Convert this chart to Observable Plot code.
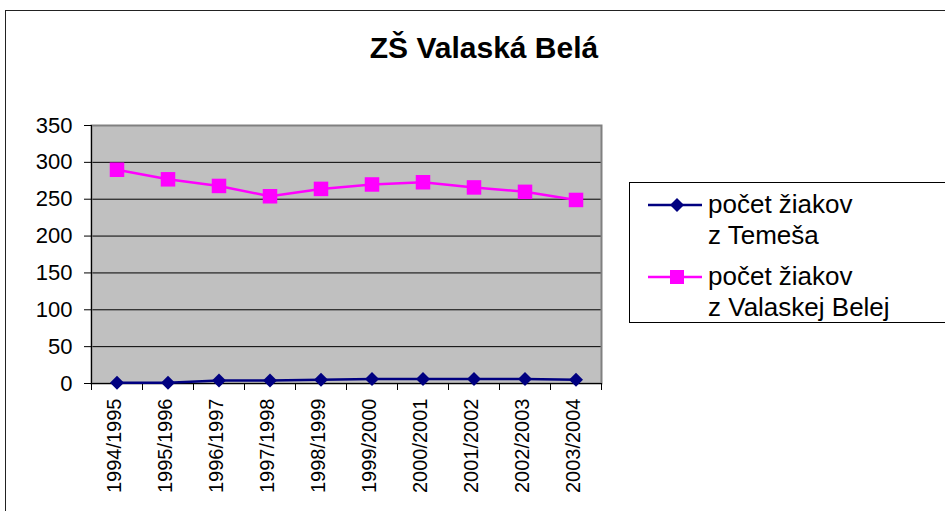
<!DOCTYPE html>
<html>
<head>
<meta charset="utf-8">
<script src="https://cdn.jsdelivr.net/npm/d3@7"></script>
<script src="https://cdn.jsdelivr.net/npm/@observablehq/plot@0.6"></script>
<style>
  html, body { margin: 0; padding: 0; background: #fff; }
  #wrap { position: relative; width: 945px; height: 511px; overflow: hidden; font-family: "Liberation Sans", Arial, sans-serif; }
  #outer { position: absolute; left: 5px; top: 10px; width: 1000px; height: 600px; border: 1.5px solid #222; box-sizing: border-box; }
  #chart { position: absolute; left: 0; top: 0; }
  #title { position: absolute; left: 0; width: 968px; top: 33px; text-align: center; font-weight: bold; font-size: 30px; line-height: 30px; color: #000; }
  #legend { position: absolute; left: 629px; top: 182px; width: 330px; height: 141px; border: 1px solid #000; box-sizing: border-box; background: #fff; }
  .lg-sw { position: absolute; left: 17px; }
  .lg-tx { position: absolute; left: 78px; font-size: 26px; line-height: 31px; color: #000; white-space: nowrap; }
</style>
</head>
<body>
<div id="wrap">
  <div id="outer"></div>
  <div id="chart"></div>
  <div id="title"></div>
  <div id="legend"></div>
</div>
<script>
// ---- data ----
const title = "ZŠ Valaská Belá";
const seasons = ["1994/1995","1995/1996","1996/1997","1997/1998","1998/1999","1999/2000","2000/2001","2001/2002","2002/2003","2003/2004"];
const temesValues = [1, 1, 4, 4, 5, 6, 6, 6, 6, 5];
const valaskaValues = [290, 277, 268, 254, 264, 270, 273, 266, 260, 249];
const seriesNames = ["počet žiakov z Temeša", "počet žiakov z Valaskej Belej"];
const legendLines = [["počet žiakov", "z Temeša"], ["počet žiakov", "z Valaskej Belej"]];
const seriesColors = ["#000080", "#FF00FF"];
const yTicks = [0, 50, 100, 150, 200, 250, 300, 350];
const gridTicks = [50, 100, 150, 200, 250, 300];

// ---- table ----
const rows = seasons.flatMap((s, i) => [
  {season: s, series: seriesNames[0], value: temesValues[i]},
  {season: s, series: seriesNames[1], value: valaskaValues[i]}
]);
const xPos = d => seasons.indexOf(d.season) + 0.5;

// custom symbols (size = PI r^2 -> h = r)
const diamond = {draw(ctx, size) { const h = Math.sqrt(size / Math.PI); ctx.moveTo(0, -h); ctx.lineTo(h, 0); ctx.lineTo(0, h); ctx.lineTo(-h, 0); ctx.closePath(); }};
const square = {draw(ctx, size) { const h = Math.sqrt(size / Math.PI); ctx.rect(-h, -h, 2 * h, 2 * h); }};

const plot = Plot.plot({
  width: 945,
  height: 511,
  marginLeft: 91,
  marginRight: 344,
  marginTop: 125,
  marginBottom: 128,
  style: {fontFamily: "'Liberation Sans', Arial, sans-serif", color: "#000", background: "transparent"},
  x: {type: "linear", domain: [0, seasons.length], axis: null},
  y: {domain: [0, 350], axis: null},
  color: {domain: seriesNames, range: seriesColors},
  marks: [
    Plot.frame({fill: "#C0C0C0", stroke: null}),
    Plot.ruleY(gridTicks, {stroke: "#000", strokeWidth: 1}),
    Plot.frame({stroke: "#808080", strokeWidth: 2}),
    Plot.ruleX([0], {stroke: "#000", strokeWidth: 1}),
    Plot.ruleY([0], {stroke: "#000", strokeWidth: 1}),
    Plot.axisY({ticks: yTicks, tickSize: 7, tickPadding: 12, fontSize: 22, anchor: "left", label: null}),
    Plot.axisX({ticks: d3.range(seasons.length + 1), tickSize: 7, tickFormat: () => "", anchor: "bottom", label: null}),
    Plot.axisX({ticks: seasons.map((s, i) => i + 0.5), tickFormat: v => seasons[Math.round(v - 0.5)], tickSize: 0, tickPadding: 15, tickRotate: -90, fontSize: 20, anchor: "bottom", dx: -2, label: null}),
    Plot.line(rows, {x: xPos, y: "value", z: "series", stroke: "series", strokeWidth: 2.5}),
    Plot.dot(rows.filter(d => d.series === seriesNames[0]), {x: xPos, y: "value", fill: "series", symbol: diamond, r: 7, stroke: null}),
    Plot.dot(rows.filter(d => d.series === seriesNames[1]), {x: xPos, y: "value", fill: "series", symbol: square, r: 7.25, stroke: null})
  ]
});
document.getElementById("chart").appendChild(plot);
document.getElementById("title").textContent = title;

// ---- legend ----
const legend = document.getElementById("legend");
const itemTops = [6, 78];
legendLines.forEach((lines, k) => {
  const sw = document.createElementNS("http://www.w3.org/2000/svg", "svg");
  sw.setAttribute("width", 56); sw.setAttribute("height", 20);
  sw.setAttribute("class", "lg-sw");
  sw.style.top = (itemTops[k] + 6) + "px";
  const ln = document.createElementNS("http://www.w3.org/2000/svg", "line");
  ln.setAttribute("x1", 1); ln.setAttribute("x2", 55); ln.setAttribute("y1", 10); ln.setAttribute("y2", 10);
  ln.setAttribute("stroke", seriesColors[k]); ln.setAttribute("stroke-width", 2.5);
  sw.appendChild(ln);
  const mk = document.createElementNS("http://www.w3.org/2000/svg", "path");
  mk.setAttribute("d", k === 0 ? "M30,3L37,10L30,17L23,10Z" : "M23,3H37V17H23Z");
  mk.setAttribute("fill", seriesColors[k]);
  sw.appendChild(mk);
  legend.appendChild(sw);
  const tx = document.createElement("div");
  tx.className = "lg-tx";
  tx.style.top = itemTops[k] + "px";
  tx.innerHTML = lines.map(l => l.replace(/&/g, "&amp;")).join("<br>");
  legend.appendChild(tx);
});
</script>
</body>
</html>
